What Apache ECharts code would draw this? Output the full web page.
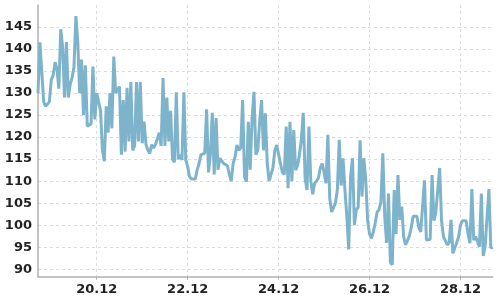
<!DOCTYPE html>
<html>
<head>
<meta charset="utf-8">
<script src="https://cdn.jsdelivr.net/npm/echarts@6/dist/echarts.min.js"></script>
<style>html,body{margin:0;padding:0;background:#fff}#c{width:500px;height:300px}</style>
</head>
<body>
<div id="c"></div>
<script>
// hourly readings, starting 18.12 17:00
const startDay = 18, startHour = 17;
const values = [
130,141.5,141.5,128,127,127,128,133,134,137,135.5,131,144.5,140.5,129,141.6,129,132,133.5,136,
147.5,141.6,130,137.6,125,136.3,122.5,122.5,123,136,124,130,128,126,117,114.5,127,121,130,122,
138.3,130,130.4,131.5,116,128.4,116.7,131.2,119,132.5,117,118,132.5,119,132.5,118.6,123.5,118.3,117,116.3,
118.3,117.5,118.3,118.5,121,118,133.4,118,129,119,126,115,114.3,130.2,115,116,114.8,130.2,114.8,113.3,
111,110.5,110.3,110.5,112.5,114,116,116.3,116.3,126.3,112,116,125.5,111.5,124.3,112.6,115.2,115.2,114,114.2,
113.5,111.5,110,114,115.5,118.2,117,117.5,128.4,111,109.9,123.5,112.6,124.3,130.3,116,117,123.5,128.4,117,
125.4,114,110,110,113,117,118.2,118,114,112,111.5,122.4,108.4,123.5,110,121.6,112.5,113.5,116,119.4,
125.5,110.5,108,122.4,110,107,109.5,110,110.7,113,114,112,109.5,120.5,106,103,103,105,108,119.4,
109,115.2,108,102,94.5,111,115.2,100,103.5,104,119.3,106.5,115.2,110.2,101,98,97,98.5,100.5,103,
103.5,105.3,116.3,102,96,107.2,91.5,91,108,98,111.4,101.2,104.2,97.4,95.5,95.2,97.5,99.5,102,102,
102,99.5,98.5,98.2,110.2,96.6,96.6,96.8,111.4,101,103,103.4,113,101,97.4,96.5,95.5,96,101.2,93.6,
93.6,96,97.4,100,101,101,101,98,95.9,108.2,96.6,97.4,97,95.1,107.2,93,95.1,95.5,108.2,94.8,
95
];
const xTickLabels = ['20.12', '22.12', '24.12', '26.12', '28.12'];
const yTickValues = [90, 95, 100, 105, 110, 115, 120, 125, 130, 135, 140, 145];
const yMin = 88.3, yMax = 150;

const categories = values.map((v, i) => {
  const t = startHour + i;
  const d = startDay + Math.floor(t / 24);
  const h = t % 24;
  return (d < 10 ? '0' + d : '' + d) + '.12 ' + (h < 10 ? '0' + h : '' + h) + ':00';
});
const isTick = (idx, val) => val.slice(6) === '00:00' && xTickLabels.indexOf(val.slice(0, 5)) >= 0;

const labelFont = { fontFamily: 'DejaVu Sans', fontWeight: 'bold', fontSize: 13, color: '#222' };
const chart = echarts.init(document.getElementById('c'), null, { renderer: 'canvas' });
chart.setOption({
  animation: false,
  backgroundColor: '#fff',
  grid: { left: 38, right: 7.3, top: 5, bottom: 23.3, containLabel: false },
  xAxis: {
    type: 'category',
    data: categories,
    boundaryGap: false,
    axisLine: { show: true, lineStyle: { color: '#b0b0b0', width: 1.5 } },
    axisTick: { show: true, interval: isTick, length: 3, lineStyle: { color: '#b0b0b0' } },
    axisLabel: Object.assign({ interval: isTick, margin: 6, formatter: v => v.slice(0, 5) }, labelFont),
    splitLine: { show: true, interval: isTick, lineStyle: { color: '#dcdcdc', type: [3, 3] } }
  },
  yAxis: {
    type: 'value',
    min: yMin,
    max: yMax,
    axisLine: { show: true, lineStyle: { color: '#b0b0b0', width: 1.5 } },
    axisTick: { show: false, customValues: yTickValues },
    axisLabel: Object.assign({ customValues: yTickValues, margin: 6 }, labelFont),
    splitLine: { show: true, lineStyle: { color: '#dcdcdc', type: [3, 3] } }
  },
  series: [{
    type: 'line',
    data: values,
    showSymbol: false,
    symbol: 'none',
    lineStyle: { color: '#7db4cb', width: 3 },
    itemStyle: { color: '#7db4cb' }
  }]
});
</script>
</body>
</html>
